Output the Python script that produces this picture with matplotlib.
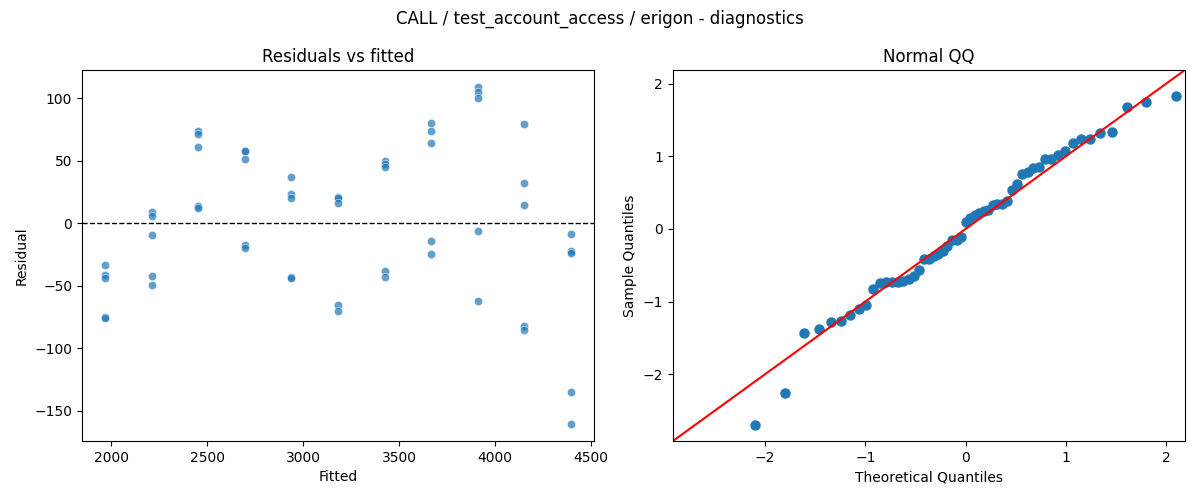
import numpy as np
import matplotlib
matplotlib.use("Agg")
import matplotlib.pyplot as plt
import seaborn as sns
from statistics import NormalDist

# Fitted levels and residuals at each level
fitted_levels = [1969, 2212, 2454, 2697, 2939, 3182, 3425, 3667, 3910, 4152, 4395]
residuals_by_level = [
    [-33, -41, -43.5, -75, -76],
    [9, 6, -9, -42, -49],
    [74, 71, 61, 13.5, 12],
    [58, 57.5, 51, -17.5, -20],
    [37, 23, 20, -43, -44],
    [21, 20.5, 16, -65, -70],
    [50, 47, 45, -38, -43],
    [80, 74, 64, -14, -24.5],
    [109, 104.5, 100, -6.5, -62],
    [79, 32, 15, -82, -85],
    [-8.5, -22, -24, -134.5, -160.5],
]

title = "CALL / test_account_access / erigon - diagnostics"

fitted = np.concatenate([[f] * len(r) for f, r in zip(fitted_levels, residuals_by_level)])
resid = np.concatenate([np.array(r, dtype=float) for r in residuals_by_level])

# Normal QQ: standardized residuals vs normal quantiles (positions i/(n+1))
n = len(resid)
sample_q = np.sort((resid - resid.mean()) / resid.std(ddof=1))
nd = NormalDist()
theo_q = np.array([nd.inv_cdf(i / (n + 1)) for i in range(1, n + 1)])

fig, (ax1, ax2) = plt.subplots(1, 2, figsize=(12, 5), dpi=100)
fig.subplots_adjust(left=0.0683, right=0.9875, top=0.86, bottom=0.118, wspace=0.154)

sns.scatterplot(x=fitted, y=resid, ax=ax1, alpha=0.7)
ax1.axhline(0, color="black", linestyle="--", linewidth=1)
ax1.set_title("Residuals vs fitted")
ax1.set_xlabel("Fitted")
ax1.set_ylabel("Residual")

ax2.plot(theo_q, sample_q, marker="o", linestyle="None", color="C0", markersize=6.5)
lims = (-2.92, 2.19)
ax2.plot(lims, lims, color="red")
ax2.set_xlim(lims)
ax2.set_ylim(lims)
ax2.set_xticks([-2, -1, 0, 1, 2])
ax2.set_yticks([-2, -1, 0, 1, 2])
ax2.set_title("Normal QQ")
ax2.set_xlabel("Theoretical Quantiles")
ax2.set_ylabel("Sample Quantiles")

fig.suptitle(title, fontsize=12, y=0.98)
fig.savefig("out.png", dpi=100)
